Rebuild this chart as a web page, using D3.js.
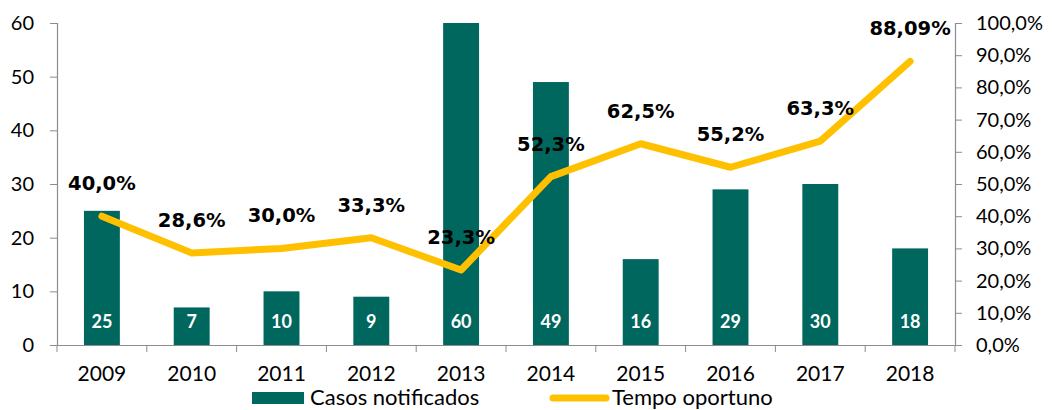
<!DOCTYPE html>
<html>
<head>
<meta charset="utf-8">
<script src="https://cdn.jsdelivr.net/npm/d3@7"></script>
<style>
  html, body { margin: 0; padding: 0; background: #fff; }
  svg { display: block; }
</style>
</head>
<body>
<svg id="chart" width="1054" height="410"></svg>
<script>
// Notified cases per year (bars) and share reported in timely fashion (line)
const years = ["2009", "2010", "2011", "2012", "2013", "2014", "2015", "2016", "2017", "2018"];
const casos = [25, 7, 10, 9, 60, 49, 16, 29, 30, 18];
const tempo = [40.0, 28.6, 30.0, 33.3, 23.3, 52.3, 62.5, 55.2, 63.3, 88.09];
const tempoLabels = ["40,0%", "28,6%", "30,0%", "33,3%", "23,3%", "52,3%", "62,5%", "55,2%", "63,3%", "88,09%"];
const leftTicks = [0, 10, 20, 30, 40, 50, 60];
const rightTicks = [0, 10, 20, 30, 40, 50, 60, 70, 80, 90, 100];

const BAR = "#00675f";
const LINE = "#ffc000";
const AXIS = "#8c8c8c";
const FONT = "Lato, 'Open Sans', sans-serif";

const svg = d3.select("#chart");
const plotLeft = 57, plotRight = 955, plotTop = 23, plotBottom = 345;

const x = d3.scaleBand().domain(years).range([plotLeft, plotRight]).paddingInner(0.6).paddingOuter(0.3);
const xb = d3.scaleBand().domain(years).range([plotLeft, plotRight]);
const yL = d3.scaleLinear().domain([0, 60]).range([plotBottom, plotTop]);
const yR = d3.scaleLinear().domain([0, 100]).range([plotBottom, plotTop]);

// Bars
svg.append("g").selectAll("rect").data(casos).join("rect")
  .attr("x", (d, i) => x(years[i]))
  .attr("width", x.bandwidth())
  .attr("y", d => yL(d))
  .attr("height", d => yL(0) - yL(d))
  .attr("fill", BAR);

// Bar value labels
svg.append("g").selectAll("text").data(casos).join("text")
  .attr("x", (d, i) => x(years[i]) + x.bandwidth() / 2)
  .attr("y", yL(0) - 17)
  .attr("text-anchor", "middle")
  .attr("font-family", FONT)
  .attr("font-weight", "bold")
  .attr("font-size", 18)
  .attr("fill", "#fff")
  .text(d => d);

// Left axis
const gL = svg.append("g").attr("transform", `translate(${plotLeft},0)`)
  .call(d3.axisLeft(yL).tickValues(leftTicks).tickSize(7).tickPadding(16).tickFormat(d3.format("d")));
// Right axis
const gR = svg.append("g").attr("transform", `translate(${plotRight},0)`)
  .call(d3.axisRight(yR).tickValues(rightTicks).tickSize(7).tickPadding(14)
    .tickFormat(d => d.toFixed(1).replace(".", ",") + "%"));
// Bottom axis (ticks at category boundaries)
const gB = svg.append("g").attr("transform", `translate(0,${plotBottom})`)
  .call(d3.axisBottom(xb).tickSize(0).tickPadding(21));
gB.selectAll(".tick").append("line")
  .attr("x1", -xb.bandwidth() / 2).attr("x2", -xb.bandwidth() / 2)
  .attr("y1", 0).attr("y2", 7).attr("stroke", AXIS);
gB.append("line")
  .attr("x1", plotRight).attr("x2", plotRight).attr("y1", 0).attr("y2", 7).attr("stroke", AXIS);

[gL, gR, gB].forEach(g => {
  g.select(".domain").attr("stroke", AXIS).attr("stroke-width", 1.2);
  g.selectAll(".tick line").attr("stroke", AXIS);
  g.selectAll(".tick text").attr("font-family", FONT).attr("font-size", 21).attr("fill", "#000");
});
gL.selectAll(".tick text").attr("font-size", 20);
gR.selectAll(".tick text").attr("font-size", 20);

// Line
const line = d3.line()
  .x((d, i) => xb(years[i]) + xb.bandwidth() / 2)
  .y(d => yR(d));
svg.append("path").datum(tempo)
  .attr("d", line)
  .attr("fill", "none")
  .attr("stroke", LINE)
  .attr("stroke-width", 7)
  .attr("stroke-linecap", "round")
  .attr("stroke-linejoin", "round");

// Line value labels
svg.append("g").selectAll("text").data(tempo).join("text")
  .attr("x", (d, i) => xb(years[i]) + xb.bandwidth() / 2)
  .attr("y", d => yR(d) - 26)
  .attr("text-anchor", "middle")
  .attr("font-family", "'DejaVu Sans', Verdana, sans-serif")
  .attr("font-weight", "bold")
  .attr("font-size", 19.5)
  .attr("fill", "#000")
  .text((d, i) => tempoLabels[i]);

// Legend
const leg = svg.append("g");
leg.append("rect").attr("x", 252).attr("y", 392).attr("width", 52).attr("height", 12).attr("fill", BAR);
leg.append("text").attr("x", 310).attr("y", 405)
  .attr("font-family", FONT).attr("font-size", 22).attr("fill", "#000").text("Casos notificados");
leg.append("line").attr("x1", 553).attr("x2", 606).attr("y1", 398).attr("y2", 398)
  .attr("stroke", LINE).attr("stroke-width", 7).attr("stroke-linecap", "round");
leg.append("text").attr("x", 612).attr("y", 405)
  .attr("font-family", FONT).attr("font-size", 22).attr("fill", "#000").text("Tempo oportuno");
</script>
</body>
</html>
